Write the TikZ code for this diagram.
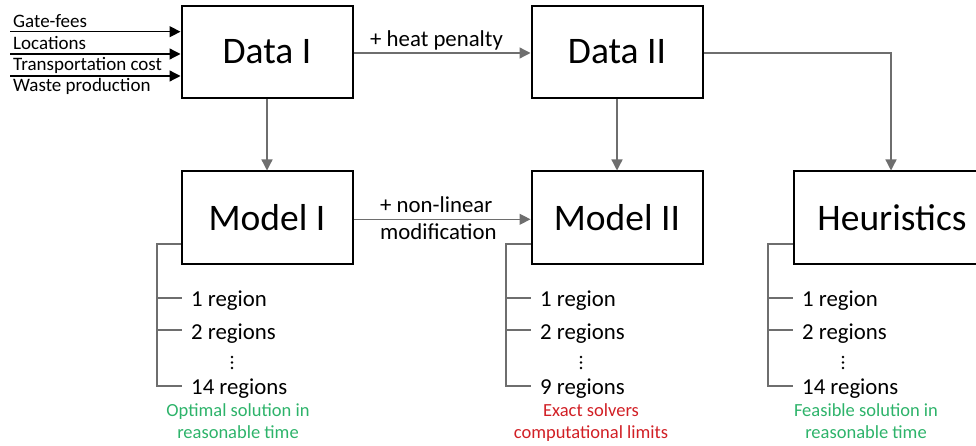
\documentclass[tikz,border=0pt]{standalone}
\usepackage{fontspec}
\setmainfont{Carlito}
\usetikzlibrary{arrows.meta}
\definecolor{linegray}{HTML}{6E6E6E}
\definecolor{okgreen}{HTML}{2DB36A}
\definecolor{limitred}{HTML}{D11F25}
\tikzset{
  stage/.style={draw=black, line width=2pt, minimum width=171pt, minimum height=92pt,
    inner sep=0pt, font=\fontsize{37.5}{40}\selectfont},
  flow/.style={draw=linegray, line width=1.3pt, -{Triangle[length=11pt,width=11pt]}},
  feed/.style={draw=black, line width=1.3pt, -{Triangle[length=11pt,width=11pt]}},
  branch/.style={draw=linegray, line width=1.2pt},
  inlabel/.style={anchor=base west, inner sep=0pt, font=\fontsize{19}{20}\selectfont},
  edgelabel/.style={anchor=base west, inner sep=0pt, font=\fontsize{22.8}{24}\selectfont},
  item/.style={anchor=base west, inner sep=0pt, font=\fontsize{22.8}{24}\selectfont},
  note/.style={anchor=base, inner sep=0pt, font=\fontsize{18.5}{20}\selectfont},
  dot/.style={fill=black, draw=none},
}
\begin{document}
\begin{tikzpicture}[x=1pt, y=-1pt]
\useasboundingbox (0,0) rectangle (976,446);

% stages
\node[stage] (d1) at (267,52) {Data I};
\node[stage] (d2) at (617,52) {Data II};
\node[stage] (m1) at (267,217.5) {Model I};
\node[stage] (m2) at (617,217.5) {Model II};
\node[stage, minimum width=196pt, anchor=west] (h) at (793,217.5) {Heuristics};

% inputs of Data I
\coordinate (i1) at (10,31.7);
\coordinate (i2) at (10,54);
\coordinate (i3) at (10,76);
\draw[feed] (i1) -- (i1 -| d1.west);
\draw[feed] (i2) -- (i2 -| d1.west);
\draw[feed] (i3) -- (i3 -| d1.west);
\node[inlabel] (t1) at (13,27.3) {Gate-fees};
\node[inlabel] (t2) at (13,50) {Locations};
\node[inlabel] (t3) at (13,71) {Transportation cost};
\node[inlabel] (t4) at (13,92) {Waste production};

% flow between stages
\draw[flow] (d1.east |- 0,53) -- (d2.west |- 0,53);
\node[edgelabel] (hp) at (370,46.7) {+ heat penalty};
\draw[flow] (d1) -- (m1);
\draw[flow] (d2) -- (m2);
\coordinate (hc) at (891,53);
\draw[flow] (d2.east |- hc) -- (hc) -- (hc |- h.north);
\draw[flow] (m1.east |- 0,219.3) -- (m2.west |- 0,219.3);
\node[edgelabel] (nl1) at (380,212.3) {+ non-linear};
\node[edgelabel] (nl2) at (380,239.3) {modification};

% region lists
\foreach \src/\x/\last/\col/\nA/\nB/\cx in {
    m1/157/14 regions/okgreen/Optimal solution in/reasonable time/238,
    m2/506/9 regions/limitred/Exact solvers/computational limits/591,
    h/768/14 regions/okgreen/Feasible solution in/reasonable time/866} {
  \coordinate (\src-j) at (\x,244);
  \coordinate (\src-a) at (\x,298);
  \coordinate (\src-b) at (\x,330);
  \coordinate (\src-c) at (\x,386);
  \draw[branch] (\src.west |- \src-j) -- (\src-j) -- (\src-c) -- ++(25,0);
  \draw[branch] (\src-a) -- ++(25,0);
  \draw[branch] (\src-b) -- ++(25,0);
  \node[item] (\src-ia) at (\x+34,306) {1 region};
  \node[item] (\src-ib) at (\x+34,339) {2 regions};
  \node[item] (\src-ic) at (\x+34,394) {\last};
  \foreach \dy in {357,362.5,368}
    \fill[dot] (\x+75,\dy) circle (1.4pt);
  \node[note, text=\col] (\src-na) at (\cx,416.5) {\nA};
  \node[note, text=\col] (\src-nb) at (\cx,438) {\nB};
}
\end{tikzpicture}
\end{document}
